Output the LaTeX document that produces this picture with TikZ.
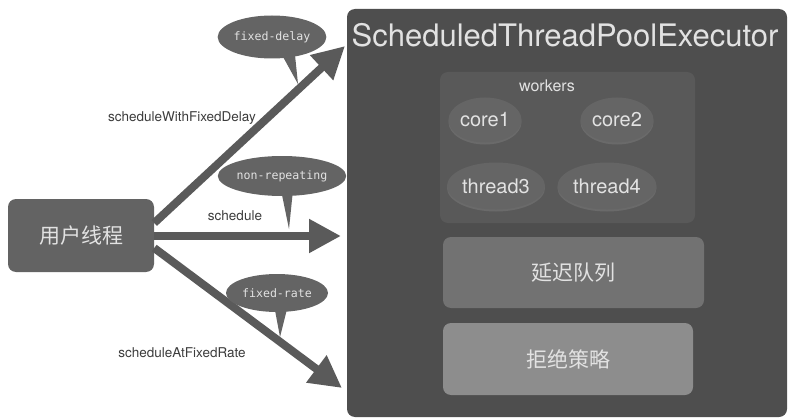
\documentclass[tikz,border=0pt]{standalone}
\usepackage{fontspec}
\setmainfont{TeX Gyre Heros}
\newfontfamily\cjk{Noto Sans CJK SC}
\newfontfamily\monof{DejaVu Sans Mono}
\usetikzlibrary{arrows.meta,shapes.geometric,shadows}

\definecolor{execbg}{HTML}{4E4E4E}
\definecolor{workbg}{HTML}{595959}
\definecolor{ovalbg}{HTML}{656565}
\definecolor{queuebg}{HTML}{727272}
\definecolor{rejectbg}{HTML}{8D8D8D}
\definecolor{userbg}{HTML}{636363}
\definecolor{arrowc}{HTML}{5A5A5A}
\definecolor{bubblebg}{HTML}{646464}
\definecolor{lighttext}{HTML}{E2E2E2}
\definecolor{labeltext}{HTML}{3C3C3C}

\tikzset{
  panel/.style={draw=none, rounded corners=8pt, inner sep=0pt, text=lighttext},
  oval/.style={ellipse, draw=none, fill=ovalbg, inner sep=0pt, text=lighttext,
    font=\fontsize{20}{22}\selectfont,
    drop shadow={opacity=0.45, shadow xshift=0pt, shadow yshift=-2pt}},
  bubble/.style={ellipse, draw=none, fill=bubblebg, inner sep=0pt, text=lighttext,
    font=\monof\fontsize{11.6}{13}\selectfont},
  callarrow/.style={draw=arrowc, line width=8pt,
    -{Triangle[length=32pt,width=32pt]}},
  calllabel/.style={text=labeltext, font=\fontsize{13.5}{15}\selectfont, inner sep=0pt},
}

\begin{document}
\begin{tikzpicture}[x=1pt,y=-1pt]
\useasboundingbox (0,0) rectangle (788,420);

% executor frame and its parts
\node[panel, fill=execbg, minimum width=440pt, minimum height=408pt] (exec) at (567,213) {};
\node[text=lighttext, inner sep=0pt, font=\fontsize{31}{34}\selectfont] (title) at (565,35) {ScheduledThreadPoolExecutor};

\node[panel, fill=workbg, minimum width=255pt, minimum height=151pt] (workers) at (567.5,147.5) {};
\node[text=lighttext, inner sep=0pt, font=\fontsize{16}{18}\selectfont] (wlabel) at (547,86) {workers};
\node[oval, minimum width=73pt, minimum height=45pt] (core1) at (485,120) {core1};
\node[oval, minimum width=73pt, minimum height=45pt] (core2) at (617,120) {core2};
\node[oval, minimum width=98pt, minimum height=47pt] (thread3) at (496,186) {thread3};
\node[oval, minimum width=99pt, minimum height=47pt] (thread4) at (607,186) {thread4};

\node[panel, fill=queuebg, minimum width=261pt, minimum height=71pt,
      font=\cjk\fontsize{21}{24}\selectfont] (queue) at (573.5,272.5) {延迟队列};
\node[panel, fill=rejectbg, minimum width=250pt, minimum height=72pt,
      font=\cjk\fontsize{21}{24}\selectfont] (reject) at (568,359) {拒绝策略};

% caller
\node[panel, fill=userbg, minimum width=146pt, minimum height=73pt,
      font=\cjk\fontsize{21}{24}\selectfont] (user) at (81,235.5) {用户线程};

% arrow ends on the executor's left side
\coordinate (endDelay) at (345,46);
\coordinate (endOnce) at (341,236);
\coordinate (endRate) at (342,388);

\draw[callarrow] ([yshift=12.5pt]user.east) -- (endDelay);
\draw[callarrow] ([yshift=-0.5pt]user.east) -- (endOnce);
\draw[callarrow] ([yshift=-12.5pt]user.east) -- (endRate);

\node[calllabel] (lDelay) at (182,118) {scheduleWithFixedDelay};
\node[calllabel] (lOnce) at (235,216) {schedule};
\node[calllabel] (lRate) at (182,353) {scheduleAtFixedRate};

% speech bubbles with their tails
\fill[bubblebg] (282,55) -- (298,84) -- (295,55) -- cycle;
\node[bubble, minimum width=100pt, minimum height=43pt] (bDelay) at (272,37) {fixed-delay};

\fill[bubblebg] (281,190) -- (289,229) -- (293,190) -- cycle;
\node[bubble, minimum width=119pt, minimum height=40pt] (bOnce) at (282,176) {non-repeating};

\fill[bubblebg] (274,305) -- (280,337) -- (288,305) -- cycle;
\node[bubble, minimum width=102pt, minimum height=38pt] (bRate) at (277,293) {fixed-rate};
\end{tikzpicture}
\end{document}
